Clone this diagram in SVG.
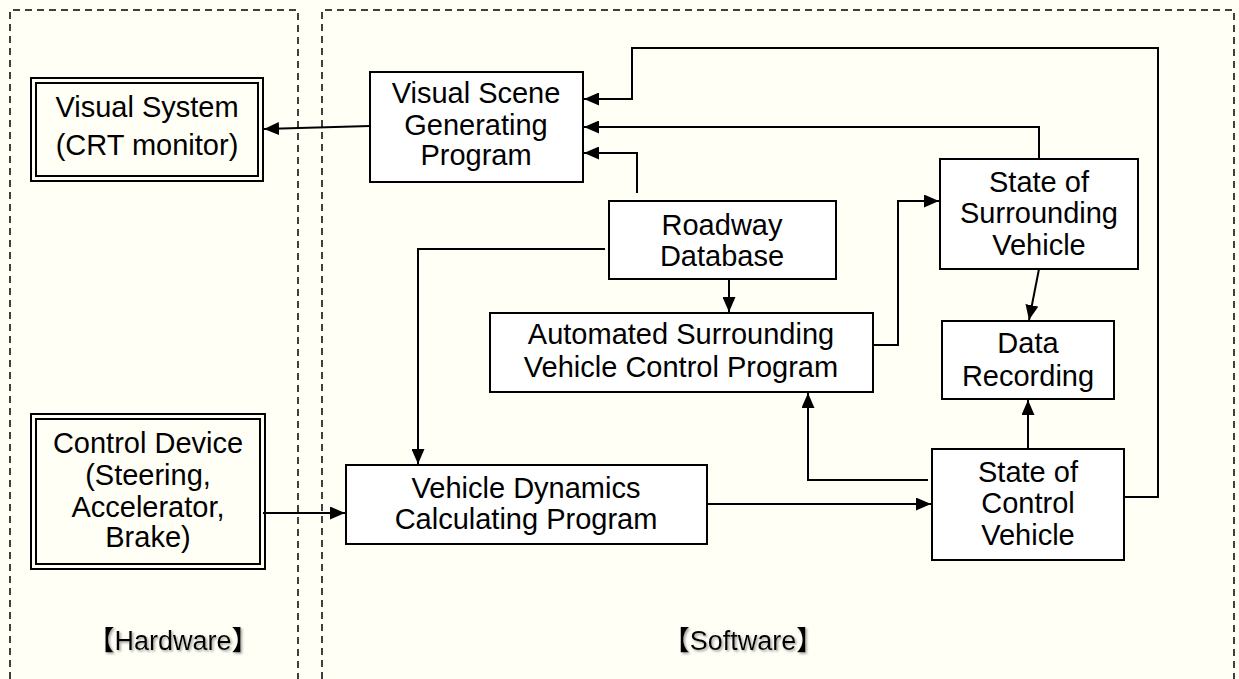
<svg xmlns="http://www.w3.org/2000/svg" width="1239" height="679" viewBox="0 0 1239 679">
  <defs>
    <style>
      .bg { fill: #FFFFF6; }
      .zone { fill: none; stroke: #000; stroke-width: 1.5; stroke-dasharray: 7 5; }
      .box { fill: #fff; stroke: #000; stroke-width: 2; }
      .dbl { fill: none; stroke: #000; stroke-width: 2; }
      .lbl { font-family: "Liberation Sans", Arial, sans-serif; font-size: 29px; fill: #000; text-anchor: middle; }
      .zlbl { font-family: "Liberation Sans", "Noto Sans CJK JP", sans-serif; font-size: 27px; fill: #000; text-anchor: middle; }
      .wire { fill: none; stroke: #000; stroke-width: 2; }
    </style>
    <marker id="head" viewBox="0 0 10 10" refX="10" refY="5" markerWidth="15" markerHeight="13" markerUnits="userSpaceOnUse" orient="auto" preserveAspectRatio="none">
      <path d="M0,0 L10,5 L0,10 z" fill="#000"/>
    </marker>
    <filter id="shadow" x="-10%" y="-30%" width="120%" height="160%">
      <feDropShadow dx="1.5" dy="1.5" stdDeviation="0.8" flood-color="#888" flood-opacity="0.8"/>
    </filter>
  </defs>

  <rect class="bg" x="0" y="0" width="1239" height="679"/>

  <!-- Hardware / Software zones -->
  <g id="zone-hardware">
    <path class="zone" d="M10,679 V10 H298 V679"/>
    <text class="zlbl" x="173" y="650" filter="url(#shadow)">【Hardware】</text>
  </g>
  <g id="zone-software">
    <path class="zone" d="M322,679 V10 H1234 V679"/>
    <text class="zlbl" x="743" y="650" filter="url(#shadow)">【Software】</text>
  </g>

  <!-- Connectors -->
  <g id="connectors">
    <!-- scene program to visual system -->
    <path class="wire" d="M370,126 L264,129" marker-end="url(#head)"/>
    <!-- control vehicle state loop back to scene program -->
    <path class="wire" d="M1124,497 H1158 V48 H632 V99 H584" marker-end="url(#head)"/>
    <!-- surrounding vehicle state to scene program -->
    <path class="wire" d="M1039,159 V127 H584" marker-end="url(#head)"/>
    <!-- roadway database to scene program -->
    <path class="wire" d="M637,193 V153 H584" marker-end="url(#head)"/>
    <!-- roadway database to dynamics program -->
    <path class="wire" d="M605,249 H418 V464" marker-end="url(#head)"/>
    <!-- roadway database to automated program -->
    <path class="wire" d="M729,279 V312" marker-end="url(#head)"/>
    <!-- automated program to surrounding vehicle state -->
    <path class="wire" d="M873,345 H898 V201 H939" marker-end="url(#head)"/>
    <!-- surrounding vehicle state to data recording -->
    <path class="wire" d="M1039,269 L1029,320" marker-end="url(#head)"/>
    <!-- control vehicle state to data recording -->
    <path class="wire" d="M1028,449 V400" marker-end="url(#head)"/>
    <!-- control vehicle state to automated program -->
    <path class="wire" d="M928,480 H808 V393" marker-end="url(#head)"/>
    <!-- dynamics program to control vehicle state -->
    <path class="wire" d="M707,504 H931" marker-end="url(#head)"/>
    <!-- control device to dynamics program -->
    <path class="wire" d="M263,513 H345" marker-end="url(#head)"/>
  </g>

  <!-- Hardware nodes -->
  <g id="visual-system">
    <rect class="dbl" x="31" y="78" width="232" height="103" fill="#fff"/>
    <rect class="dbl" x="36" y="83" width="222" height="93"/>
    <text class="lbl" x="147" y="117">Visual System</text>
    <text class="lbl" x="147" y="155">(CRT monitor)</text>
  </g>
  <g id="control-device">
    <rect class="dbl" x="31" y="414" width="234" height="155" fill="#fff"/>
    <rect class="dbl" x="36" y="419" width="224" height="145"/>
    <text class="lbl" x="148" y="453">Control Device</text>
    <text class="lbl" x="148" y="485">(Steering,</text>
    <text class="lbl" x="148" y="517">Accelerator,</text>
    <text class="lbl" x="148" y="547">Brake)</text>
  </g>

  <!-- Software nodes -->
  <g id="visual-scene-program">
    <rect class="box" x="370" y="72" width="213" height="110"/>
    <text class="lbl" x="476" y="103">Visual Scene</text>
    <text class="lbl" x="476" y="135">Generating</text>
    <text class="lbl" x="476" y="165">Program</text>
  </g>
  <g id="roadway-database">
    <rect class="box" x="609" y="201" width="227" height="78"/>
    <text class="lbl" x="722" y="235">Roadway</text>
    <text class="lbl" x="722" y="266">Database</text>
  </g>
  <g id="surrounding-vehicle-state">
    <rect class="box" x="940" y="159" width="198" height="110"/>
    <text class="lbl" x="1039" y="192">State of</text>
    <text class="lbl" x="1039" y="223">Surrounding</text>
    <text class="lbl" x="1039" y="255">Vehicle</text>
  </g>
  <g id="automated-program">
    <rect class="box" x="490" y="313" width="383" height="79"/>
    <text class="lbl" x="681" y="344">Automated Surrounding</text>
    <text class="lbl" x="681" y="377">Vehicle Control Program</text>
  </g>
  <g id="data-recording">
    <rect class="box" x="942" y="321" width="172" height="78"/>
    <text class="lbl" x="1028" y="353">Data</text>
    <text class="lbl" x="1028" y="386">Recording</text>
  </g>
  <g id="dynamics-program">
    <rect class="box" x="346" y="465" width="361" height="79"/>
    <text class="lbl" x="526" y="498">Vehicle Dynamics</text>
    <text class="lbl" x="526" y="529">Calculating Program</text>
  </g>
  <g id="control-vehicle-state">
    <rect class="box" x="932" y="449" width="192" height="111"/>
    <text class="lbl" x="1028" y="482">State of</text>
    <text class="lbl" x="1028" y="513">Control</text>
    <text class="lbl" x="1028" y="545">Vehicle</text>
  </g>
</svg>
